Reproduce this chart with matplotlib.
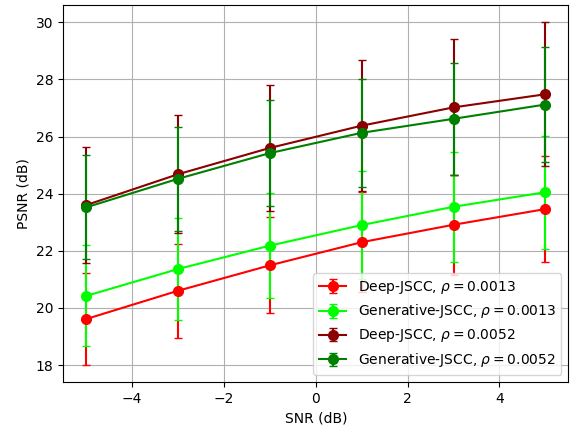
import matplotlib
matplotlib.use("Agg")
import matplotlib.pyplot as plt
import numpy as np

snr = [-5, -3, -1, 1, 3, 5]

deep_0013 = [19.61, 20.60, 21.49, 22.30, 22.91, 23.46]
deep_0013_err = [1.60, 1.64, 1.68, 1.76, 1.75, 1.85]

gen_0013 = [20.42, 21.36, 22.18, 22.90, 23.54, 24.05]
gen_0013_err = [1.77, 1.80, 1.84, 1.88, 1.93, 1.98]

deep_0052 = [23.60, 24.68, 25.60, 26.38, 27.02, 27.48]
deep_0052_err = [2.04, 2.06, 2.20, 2.30, 2.38, 2.52]

gen_0052 = [23.52, 24.52, 25.42, 26.13, 26.62, 27.12]
gen_0052_err = [1.82, 1.83, 1.85, 1.90, 1.97, 2.02]

series = [
    (deep_0013, deep_0013_err, 'red', r'Deep-JSCC, $\rho = 0.0013$'),
    (gen_0013, gen_0013_err, 'lime', r'Generative-JSCC, $\rho = 0.0013$'),
    (deep_0052, deep_0052_err, 'darkred', r'Deep-JSCC, $\rho = 0.0052$'),
    (gen_0052, gen_0052_err, 'green', r'Generative-JSCC, $\rho = 0.0052$'),
]

fig = plt.figure(figsize=(5.7, 4.3), dpi=100)
ax = fig.add_axes([0.111, 0.112, 0.886, 0.876])

for vals, errs, color, label in series:
    ax.errorbar(snr, vals, yerr=errs, fmt='o-', color=color, capsize=3,
                markersize=7, label=label)

ax.set_xlabel('SNR (dB)')
ax.set_ylabel('PSNR (dB)')
ax.grid(True)
ax.legend(loc='lower right')

fig.savefig('out.png', dpi=100)
